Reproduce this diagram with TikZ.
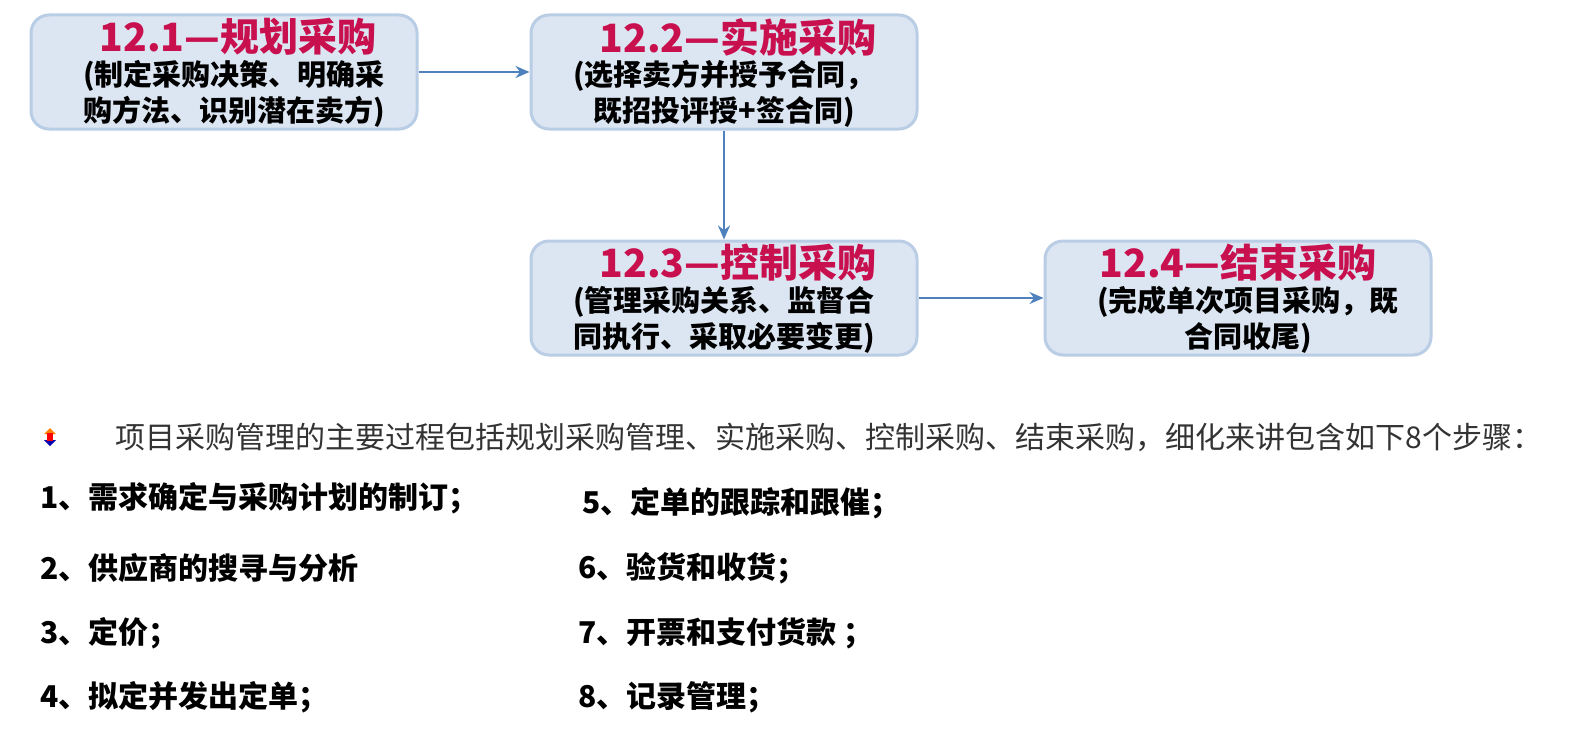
\documentclass[tikz,border=0pt]{standalone}
\usepackage{fontspec}
\setmainfont{Noto Sans CJK SC}
\usetikzlibrary{arrows.meta}
\definecolor{boxfill}{HTML}{DCE6F2}
\definecolor{boxline}{HTML}{B9CDE5}
\definecolor{ttl}{HTML}{C8104F}
\definecolor{arr}{HTML}{4F81BD}
\tikzset{
  pbox/.style={draw=boxline,fill=boxfill,line width=1.5pt,rounded corners=9pt,minimum width=193pt,minimum height=57pt,inner sep=0pt},
  ttlt/.style={text=ttl,font=\bfseries\fontsize{19.5}{21}\selectfont},
  bodyt/.style={font=\bfseries\fontsize{14.5}{18}\selectfont,align=center},
  conn/.style={draw=arr,line width=1.2pt,-{Stealth[length=7pt,width=6pt]}},
  item/.style={anchor=west,font=\bfseries\fontsize{15}{17}\selectfont,inner sep=0pt}
}
\begin{document}
\begin{tikzpicture}[x=0.5pt,y=-0.5pt]
\useasboundingbox (0,0) rectangle (1578,749);
\node[pbox] (b1) at (224,72) {};
\node[pbox] (b2) at (724,72) {};
\node[pbox] (b3) at (724,298) {};
\node[pbox] (b4) at (1238,298) {};
\node[ttlt] (t1) at (238,37) {12.1—规划采购};
\node[bodyt] (s1) at (234,94) {(制定采购决策、明确采\\购方法、识别潜在卖方)};
\node[ttlt] (t2) at (738,37) {12.2—实施采购};
\node[bodyt] (s2) at (724,94) {(选择卖方并授予合同，\\既招投评授+签合同)};
\node[ttlt] (t3) at (738,263) {12.3—控制采购};
\node[bodyt] (s3) at (724,320) {(管理采购关系、监督合\\同执行、采取必要变更)};
\node[ttlt] (t4) at (1238,263) {12.4—结束采购};
\node[bodyt] (s4) at (1248,320) {(完成单次项目采购，既\\合同收尾)};
\draw[conn] (b1.east) -- (b2.west);
\draw[conn] (b2.south) -- (b3.north);
\draw[conn] (b3.east) -- (b4.west);
\fill[orange] (44,434) -- (50,428) -- (56,434) -- cycle;
\fill[blue!70!black] (44,440) -- (50,446) -- (56,440) -- cycle;
\fill[red] (47,433) rectangle (53,441);
\node[anchor=west,inner sep=0pt,text=black!80,font=\fontsize{15}{17}\selectfont] (intro) at (115,437) {项目采购管理的主要过程包括规划采购管理、实施采购、控制采购、结束采购，细化来讲包含如下8个步骤：};
\node[item] (i1) at (40,498) {1、需求确定与采购计划的制订；};
\node[item] (i2) at (40,568) {2、供应商的搜寻与分析};
\node[item] (i3) at (40,633) {3、定价；};
\node[item] (i4) at (40,697) {4、拟定并发出定单；};
\node[item] (i5) at (582,503) {5、定单的跟踪和跟催；};
\node[item] (i6) at (578,568) {6、验货和收货；};
\node[item] (i7) at (578,633) {7、开票和支付货款 ；};
\node[item] (i8) at (578,697) {8、记录管理；};
\end{tikzpicture}
\end{document}
